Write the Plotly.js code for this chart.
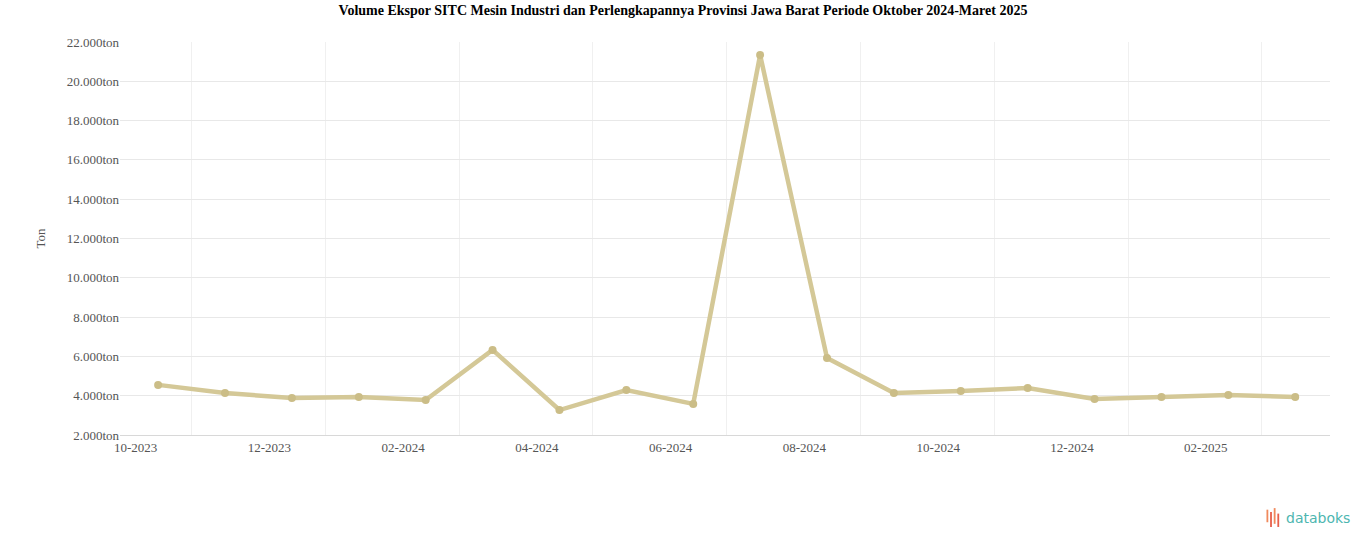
<!DOCTYPE html>
<html>
<head>
<meta charset="utf-8">
<script src="https://cdn.plot.ly/plotly-3.0.1.min.js"></script>
<style>html,body{margin:0;padding:0;background:#fff;}#chart{width:1366px;height:547px;}</style>
</head>
<body>
<div id="chart"></div>
<script>
// Data
const months = ["10-2023","11-2023","12-2023","01-2024","02-2024","03-2024","04-2024","05-2024","06-2024",
                "07-2024","08-2024","09-2024","10-2024","11-2024","12-2024","01-2025","02-2025","03-2025"];
const volumeTon = [4550, 4140, 3880, 3930, 3780, 6330, 3270, 4290, 3580,
                   21340, 5920, 4140, 4240, 4390, 3830, 3930, 4040, 3930];
const xTickLabels = ["10-2023","12-2023","02-2024","04-2024","06-2024","08-2024","10-2024","12-2024","02-2025"];
const yTickValues = [2000,4000,6000,8000,10000,12000,14000,16000,18000,20000,22000];
const yTickLabels = ["2.000ton","4.000ton","6.000ton","8.000ton","10.000ton","12.000ton","14.000ton",
                     "16.000ton","18.000ton","20.000ton","22.000ton"];

const idx = months.map((m,i)=>i);
const xTickVals = xTickLabels.map(l => months.indexOf(l) + 0.5);

const trace = {
  x: idx, y: volumeTon, text: months,
  type: 'scatter', mode: 'lines+markers',
  line: {color: '#d4c897', width: 4.5},
  marker: {color: '#cbbd87', size: 8},
  hovertemplate: '%{text}: %{y:,d} ton<extra></extra>'
};

const font = "'Liberation Serif', 'Times New Roman', serif";
const layout = {
  width: 1366, height: 547,
  paper_bgcolor: '#fff', plot_bgcolor: '#fff',
  separators: ',.',
  margin: {l: 120, r: 36, t: 42, b: 112},
  showlegend: false,
  font: {family: font, color: '#555', size: 13},
  title: {text: '<b>Volume Ekspor SITC Mesin Industri dan Perlengkapannya Provinsi Jawa Barat Periode Oktober 2024-Maret 2025</b>',
          x: 0.5, xanchor: 'center', y: 0.982, yanchor: 'middle',
          font: {family: font, size: 14, color: '#000'}},
  xaxis: {
    range: [-0.57, 17.52], tickmode: 'array', tickvals: xTickVals, ticktext: xTickLabels,
    ticklabelshift: -56, showgrid: true, gridcolor: '#f0f0f0', gridwidth: 1,
    zeroline: false, showline: true, linecolor: '#d8d8d8', ticks: '',
    tickfont: {family: font, size: 13, color: '#555'}, fixedrange: true
  },
  yaxis: {
    range: [2000, 22000], tickmode: 'array', tickvals: yTickValues, ticktext: yTickLabels,
    showgrid: true, gridcolor: '#e8e8e8', gridwidth: 1, zeroline: false,
    showline: false, ticks: '', tickfont: {family: font, size: 13, color: '#555'},
    title: {text: 'Ton', font: {family: font, size: 13, color: '#555'}, standoff: 18},
    fixedrange: true
  },
  annotations: [{
    text: 'databoks', xref: 'paper', yref: 'paper', x: 1.0185, y: -0.211, xanchor: 'right', yanchor: 'middle',
    showarrow: false, font: {family: "'DejaVu Sans', sans-serif", size: 14, color: '#4db6b0'}
  }],
  shapes: [
    {type:'rect', xref:'paper', yref:'paper', x0:0.9475, x1:0.9490, y0:-0.222, y1:-0.190, fillcolor:'#f08a5d', line:{width:0}},
    {type:'rect', xref:'paper', yref:'paper', x0:0.9505, x1:0.9520, y0:-0.234, y1:-0.196, fillcolor:'#e8604c', line:{width:0}},
    {type:'rect', xref:'paper', yref:'paper', x0:0.9535, x1:0.9550, y0:-0.226, y1:-0.186, fillcolor:'#f08a5d', line:{width:0}},
    {type:'rect', xref:'paper', yref:'paper', x0:0.9565, x1:0.9580, y0:-0.234, y1:-0.200, fillcolor:'#e8604c', line:{width:0}}
  ]
};

Plotly.newPlot('chart', [trace], layout, {displayModeBar: false, responsive: false});
</script>
</body>
</html>
